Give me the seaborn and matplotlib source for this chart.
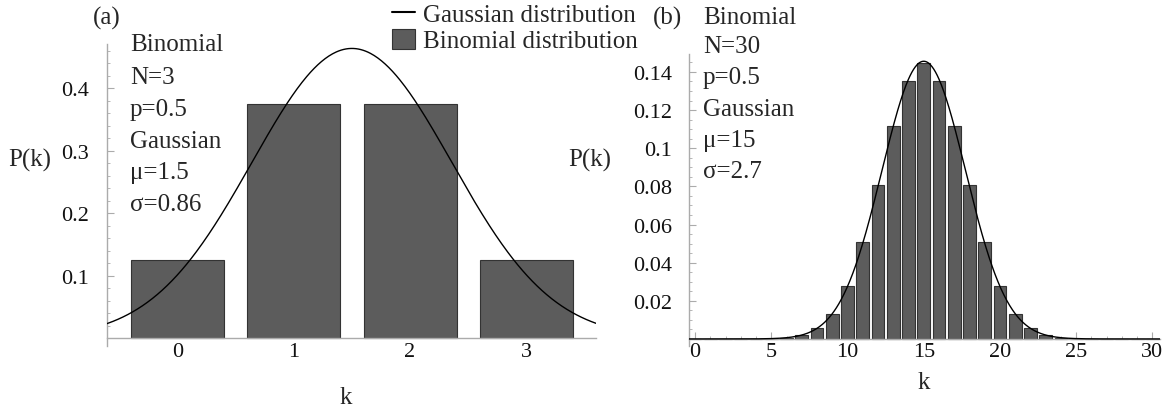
import numpy as np
import pandas as pd
import matplotlib
matplotlib.use("Agg")
import matplotlib.pyplot as plt
from matplotlib.lines import Line2D
from matplotlib.patches import Patch
from matplotlib.ticker import MultipleLocator
import seaborn as sns

# ---- data ----
k_a = [0, 1, 2, 3]
p_a = [0.125, 0.375, 0.375, 0.125]
mu_a, sigma_a = 1.5, 0.86

k_b = list(range(31))
p_b = [0.0, 0.0, 0.0, 0.0, 0.0, 0.0001, 0.0006, 0.0019, 0.0055, 0.0133,
       0.0280, 0.0509, 0.0806, 0.1115, 0.1354, 0.1445, 0.1354, 0.1115,
       0.0806, 0.0509, 0.0280, 0.0133, 0.0055, 0.0019, 0.0006, 0.0001,
       0.0, 0.0, 0.0, 0.0, 0.0]
mu_b, sigma_b = 15, 2.74

text_a = ["Binomial", "N=3", "p=0.5", "Gaussian", "\u03bc=1.5", "\u03c3=0.86"]
text_b = ["Binomial", "N=30", "p=0.5", "Gaussian", "\u03bc=15", "\u03c3=2.7"]
xticks_b = [0, 5, 10, 15, 20, 25, 30]
yticks_a = [0.1, 0.2, 0.3, 0.4]
yticks_b = [0.02, 0.04, 0.06, 0.08, 0.1, 0.12, 0.14]

# ---- style ----
sns.set_style("ticks")
plt.rcParams['font.family'] = ['Liberation Serif', 'DejaVu Serif']

W, H = 1165, 414
fig = plt.figure(figsize=(W / 100, H / 100), dpi=100)

def px(x, y):
    return x / W, 1 - y / H

BAR = "#5c5c5c"
EDGE = "#333333"
AX = "#ababab"

ax_a = fig.add_axes([107 / W, 1 - 347 / H, (596 - 107) / W, (347 - 45) / H])
ax_b = fig.add_axes([689 / W, 1 - 347 / H, (1160 - 689) / W, (347 - 55) / H])

df_a = pd.DataFrame({"k": k_a, "p": p_a})
df_b = pd.DataFrame({"k": k_b, "p": p_b})

sns.barplot(data=df_a, x="k", y="p", native_scale=True, width=0.8,
            color=BAR, saturation=1, edgecolor=EDGE, linewidth=0.8, ax=ax_a, zorder=2)
sns.barplot(data=df_b, x="k", y="p", native_scale=True, width=0.84,
            color=BAR, saturation=1, edgecolor=EDGE, linewidth=0.8, ax=ax_b, zorder=2)

def gauss(x, m, s):
    return np.exp(-(x - m) ** 2 / (2 * s ** 2)) / (s * np.sqrt(2 * np.pi))

xa_lim = (-0.607, 3.6)
xb_lim = (-0.4, 30.5)
xa = np.linspace(*xa_lim, 400)
xb = np.linspace(*xb_lim, 800)
sns.lineplot(x=xa, y=gauss(xa, mu_a, sigma_a), color="black", lw=1.0, ax=ax_a, zorder=3)
sns.lineplot(x=xb, y=gauss(xb, mu_b, sigma_b), color="black", lw=1.0, ax=ax_b, zorder=3)

ax_a.set_xlim(*xa_lim)
ax_a.set_ylim(-0.0128, 0.471)
ax_b.set_xlim(*xb_lim)
ax_b.set_ylim(-0.0037, 0.1494)

for ax in (ax_a, ax_b):
    ax.set_xlabel("")
    ax.set_ylabel("")
    for s in ("top", "right"):
        ax.spines[s].set_visible(False)
    for s in ("left", "bottom"):
        ax.spines[s].set_color(AX)
        ax.spines[s].set_linewidth(1.0)
    ax.spines["bottom"].set_position(("data", 0))
    ax.tick_params(axis="both", which="both", direction="in", color=AX,
                   labelsize=16, labelcolor="#111111")
    ax.tick_params(which="major", length=5, width=0.8)
    ax.tick_params(which="minor", length=2.5, width=0.6)

ax_a.set_xticks(k_a)
ax_a.set_xticklabels([str(v) for v in k_a])
ax_a.tick_params(axis="x", length=0, pad=3)
ax_a.set_yticks(yticks_a)
ax_a.set_yticklabels([f"{v:g}" for v in yticks_a])
ax_a.yaxis.set_minor_locator(MultipleLocator(0.02))
ax_a.tick_params(axis="y", pad=13)

ax_b.set_xticks(xticks_b)
ax_b.set_xticklabels([str(v) for v in xticks_b])
ax_b.xaxis.set_minor_locator(MultipleLocator(1))
ax_b.tick_params(axis="x", pad=2)
ax_b.set_yticks(yticks_b)
ax_b.set_yticklabels([f"{v:g}" for v in yticks_b])
ax_b.yaxis.set_minor_locator(MultipleLocator(0.005))
ax_b.tick_params(axis="y", pad=12)

FS = 18
fig.text(*px(107, 18), "(a)", fontsize=FS, ha="center", va="center")
fig.text(*px(668, 18), "(b)", fontsize=FS, ha="center", va="center")
fig.text(*px(30, 160), "P(k)", fontsize=FS, ha="center", va="center")
fig.text(*px(590, 160), "P(k)", fontsize=FS, ha="center", va="center")
fig.text(*px(346, 398), "k", fontsize=FS, ha="center", va="center")
fig.text(*px(924, 383), "k", fontsize=FS, ha="center", va="center")

for t, y in zip(text_a, [45, 78, 110, 142, 173, 205]):
    fig.text(*px(130, y), t, fontsize=FS, ha="left", va="center")
for t, y in zip(text_b, [18, 47, 78, 110, 141, 172]):
    fig.text(*px(703, y), t, fontsize=FS, ha="left", va="center")

handles = [Line2D([0], [0], color="black", lw=1.5),
           Patch(facecolor=BAR, edgecolor=EDGE, linewidth=0.8)]
fig.legend(handles, ["Gaussian distribution", "Binomial distribution"],
           loc="upper left", bbox_to_anchor=px(392, 3), frameon=False,
           fontsize=FS, handlelength=0.9, handleheight=0.9, handletextpad=0.35,
           labelspacing=0.1, borderpad=0, borderaxespad=0)

fig.savefig("out.png", dpi=100)
